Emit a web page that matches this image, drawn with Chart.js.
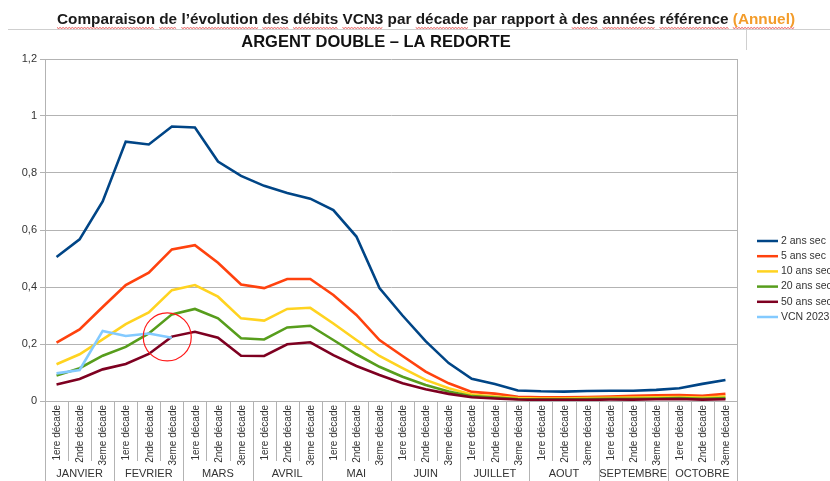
<!DOCTYPE html>
<html>
<head>
<meta charset="utf-8">
<script src="https://cdn.jsdelivr.net/npm/chart.js@4.4.1/dist/chart.umd.min.js"></script>
<style>
  html, body { margin: 0; padding: 0; background: #fff; }
  #c { display: block; }
</style>
</head>
<body>
<canvas id="c" width="830" height="481"></canvas>
<script>
// decades per month
const months = ["JANVIER", "FEVRIER", "MARS", "AVRIL", "MAI", "JUIN", "JUILLET", "AOUT", "SEPTEMBRE", "OCTOBRE"];
const decades = ["1ere décade", "2nde décade", "3eme décade"];
const labels = [];
months.forEach(m => decades.forEach(d => labels.push(d)));

const yTicks = [0, 0.2, 0.4, 0.6, 0.8, 1, 1.2];

// VCN3 values (m3/s)
const twoYears = [0.505, 0.567, 0.70, 0.91, 0.90, 0.963, 0.96, 0.84, 0.79, 0.755, 0.73, 0.71, 0.67, 0.577, 0.396, 0.30, 0.21, 0.133, 0.078, 0.06, 0.037, 0.034, 0.033, 0.035, 0.036, 0.036, 0.039, 0.045, 0.06, 0.074];
const fiveYears = [0.205, 0.251, 0.33, 0.407, 0.45, 0.532, 0.547, 0.485, 0.409, 0.396, 0.428, 0.428, 0.372, 0.302, 0.214, 0.158, 0.103, 0.062, 0.032, 0.026, 0.015, 0.013, 0.013, 0.014, 0.016, 0.018, 0.02, 0.021, 0.018, 0.025];
const tenYears = [0.129, 0.164, 0.216, 0.27, 0.311, 0.389, 0.407, 0.366, 0.29, 0.282, 0.323, 0.327, 0.272, 0.214, 0.158, 0.115, 0.074, 0.045, 0.023, 0.016, 0.01, 0.009, 0.009, 0.01, 0.011, 0.012, 0.013, 0.014, 0.012, 0.016];
const twentyYears = [0.089, 0.115, 0.159, 0.19, 0.237, 0.304, 0.323, 0.29, 0.22, 0.216, 0.258, 0.264, 0.214, 0.164, 0.12, 0.085, 0.056, 0.033, 0.017, 0.012, 0.007, 0.006, 0.006, 0.007, 0.008, 0.008, 0.009, 0.01, 0.008, 0.01];
const fiftyYears = [0.058, 0.077, 0.111, 0.13, 0.165, 0.226, 0.243, 0.222, 0.159, 0.158, 0.199, 0.206, 0.161, 0.123, 0.091, 0.062, 0.041, 0.025, 0.013, 0.009, 0.005, 0.004, 0.004, 0.004, 0.005, 0.005, 0.006, 0.007, 0.005, 0.006];
const vcn2023 = [0.097, 0.109, 0.246, 0.228, 0.237, 0.222];

const seriesNames = ["2 ans sec", "5 ans sec", "10 ans sec", "20 ans sec", "50 ans sec", "VCN 2023"];
const seriesColors = ["#004586", "#ff420e", "#ffd320", "#579d1c", "#7e0021", "#83caff"];
const seriesData = [twoYears, fiveYears, tenYears, twentyYears, fiftyYears, vcn2023];

// red hand-drawn circle (in data units)
const markIndex = 4.8;
const markValue = 0.225;

const FONT = '"Liberation Sans", Arial, sans-serif';
const GRID = "#b3b3b3";

const decor = {
  id: "decor",
  afterDraw(chart) {
    const ctx = chart.ctx;
    const x = chart.scales.x;
    const y = chart.scales.y;
    const area = chart.chartArea;
    ctx.save();

    // header line + little divider
    ctx.strokeStyle = "#cfcfcf";
    ctx.lineWidth = 1;
    ctx.beginPath();
    ctx.moveTo(8, 29.5); ctx.lineTo(830, 29.5);
    ctx.moveTo(746.5, 29.5); ctx.lineTo(746.5, 50);
    ctx.stroke();

    // main title
    const t1 = "Comparaison de l\u2019évolution des débits VCN3 par décade par rapport à des années référence ";
    const t2 = "(Annuel)";
    ctx.font = "bold 15px " + FONT;
    ctx.textBaseline = "alphabetic";
    ctx.textAlign = "left";
    const w1 = ctx.measureText(t1).width, w2 = ctx.measureText(t2).width;
    const sx = 738 / (w1 + w2);
    ctx.save();
    ctx.translate(57, 24);
    ctx.scale(sx, 1);
    ctx.fillStyle = "#1a1a1a";
    ctx.fillText(t1, 0, 0);
    ctx.fillStyle = "#f39c2a";
    ctx.fillText(t2, w1, 0);
    // spell-check squiggles under words
    ctx.strokeStyle = "#e53030";
    ctx.lineWidth = 0.8;
    let pos = 0;
    (t1 + t2).split(" ").forEach(word => {
      const ww = ctx.measureText(word).width;
      if (word.length > 1 && word !== "par" && word !== "rapport") {
        ctx.beginPath();
        for (let k = 0; k <= ww; k += 1.5) {
          const yy = 3.5 + ((Math.round(k / 1.5) % 2) ? 1 : 0);
          if (k === 0) ctx.moveTo(pos + k, yy); else ctx.lineTo(pos + k, yy);
        }
        ctx.stroke();
      }
      pos += ww + ctx.measureText(" ").width;
    });
    ctx.restore();

    // subtitle
    ctx.font = "bold 16.5px " + FONT;
    ctx.fillStyle = "#111";
    ctx.textAlign = "center";
    ctx.fillText("ARGENT DOUBLE \u2013 LA REDORTE", 376, 47);

    // plot right border
    ctx.strokeStyle = GRID;
    ctx.lineWidth = 1;
    ctx.beginPath();
    ctx.moveTo(Math.round(area.right) + 0.5, area.top);
    ctx.lineTo(Math.round(area.right) + 0.5, area.bottom);
    ctx.stroke();

    // category separators below axis
    ctx.beginPath();
    for (let i = 0; i <= labels.length; i++) {
      const px = Math.round(x.getPixelForValue(i - 0.5)) + 0.5;
      ctx.moveTo(px, area.bottom);
      ctx.lineTo(px, i % 3 === 0 ? 481 : 461);
    }
    ctx.stroke();

    // rotated decade labels
    ctx.fillStyle = "#333";
    ctx.font = "10px " + FONT;
    ctx.textAlign = "right";
    ctx.textBaseline = "middle";
    labels.forEach((lab, i) => {
      const px = x.getPixelForValue(i);
      ctx.save();
      ctx.translate(px + 1, area.bottom + 4);
      ctx.rotate(-Math.PI / 2);
      ctx.fillText(lab, 0, 0);
      ctx.restore();
    });

    // month labels
    ctx.font = "11px " + FONT;
    ctx.textAlign = "center";
    months.forEach((m, j) => {
      ctx.fillText(m, x.getPixelForValue(j * 3 + 1), 474);
    });

    // legend
    ctx.font = "10.5px " + FONT;
    ctx.textAlign = "left";
    seriesNames.forEach((name, k) => {
      const ly = 241 + k * 15.2;
      ctx.strokeStyle = seriesColors[k];
      ctx.lineWidth = 2.5;
      ctx.beginPath();
      ctx.moveTo(757, ly); ctx.lineTo(778, ly);
      ctx.stroke();
      ctx.fillStyle = "#333";
      ctx.fillText(name, 781, ly);
    });

    // red circle
    ctx.strokeStyle = "#ff1a1a";
    ctx.lineWidth = 1.2;
    ctx.beginPath();
    ctx.arc(x.getPixelForValue(markIndex), y.getPixelForValue(markValue), 24, 0, Math.PI * 2);
    ctx.stroke();

    ctx.restore();
  }
};

new Chart(document.getElementById("c"), {
  type: "line",
  data: {
    labels: labels,
    datasets: seriesData.map((d, k) => ({
      label: seriesNames[k],
      data: d,
      borderColor: seriesColors[k],
      backgroundColor: seriesColors[k],
      borderWidth: 2.6,
      pointRadius: 0,
      tension: 0,
      fill: false,
      order: seriesData.length - k
    }))
  },
  options: {
    responsive: false,
    animation: false,
    devicePixelRatio: 1,
    layout: { padding: { top: 59, right: 93, left: 0, bottom: 0 } },
    plugins: {
      legend: { display: false },
      title: { display: false },
      tooltip: { enabled: false }
    },
    scales: {
      x: {
        type: "category",
        offset: true,
        grid: { display: false },
        border: { display: false },
        ticks: { display: false },
        afterFit(s) { s.height = 80; }
      },
      y: {
        min: 0,
        max: 1.2,
        afterBuildTicks(s) { s.ticks = yTicks.map(v => ({ value: v })); },
        grid: { color: GRID, lineWidth: 1, tickLength: 5 },
        border: { display: true, color: GRID },
        ticks: {
          padding: 3,
          color: "#333",
          font: { family: FONT, size: 11 },
          callback: v => String(Math.round(v * 10) / 10).replace(".", ",")
        },
        afterFit(s) { s.width = 45; }
      }
    }
  },
  plugins: [decor]
});
</script>
</body>
</html>
